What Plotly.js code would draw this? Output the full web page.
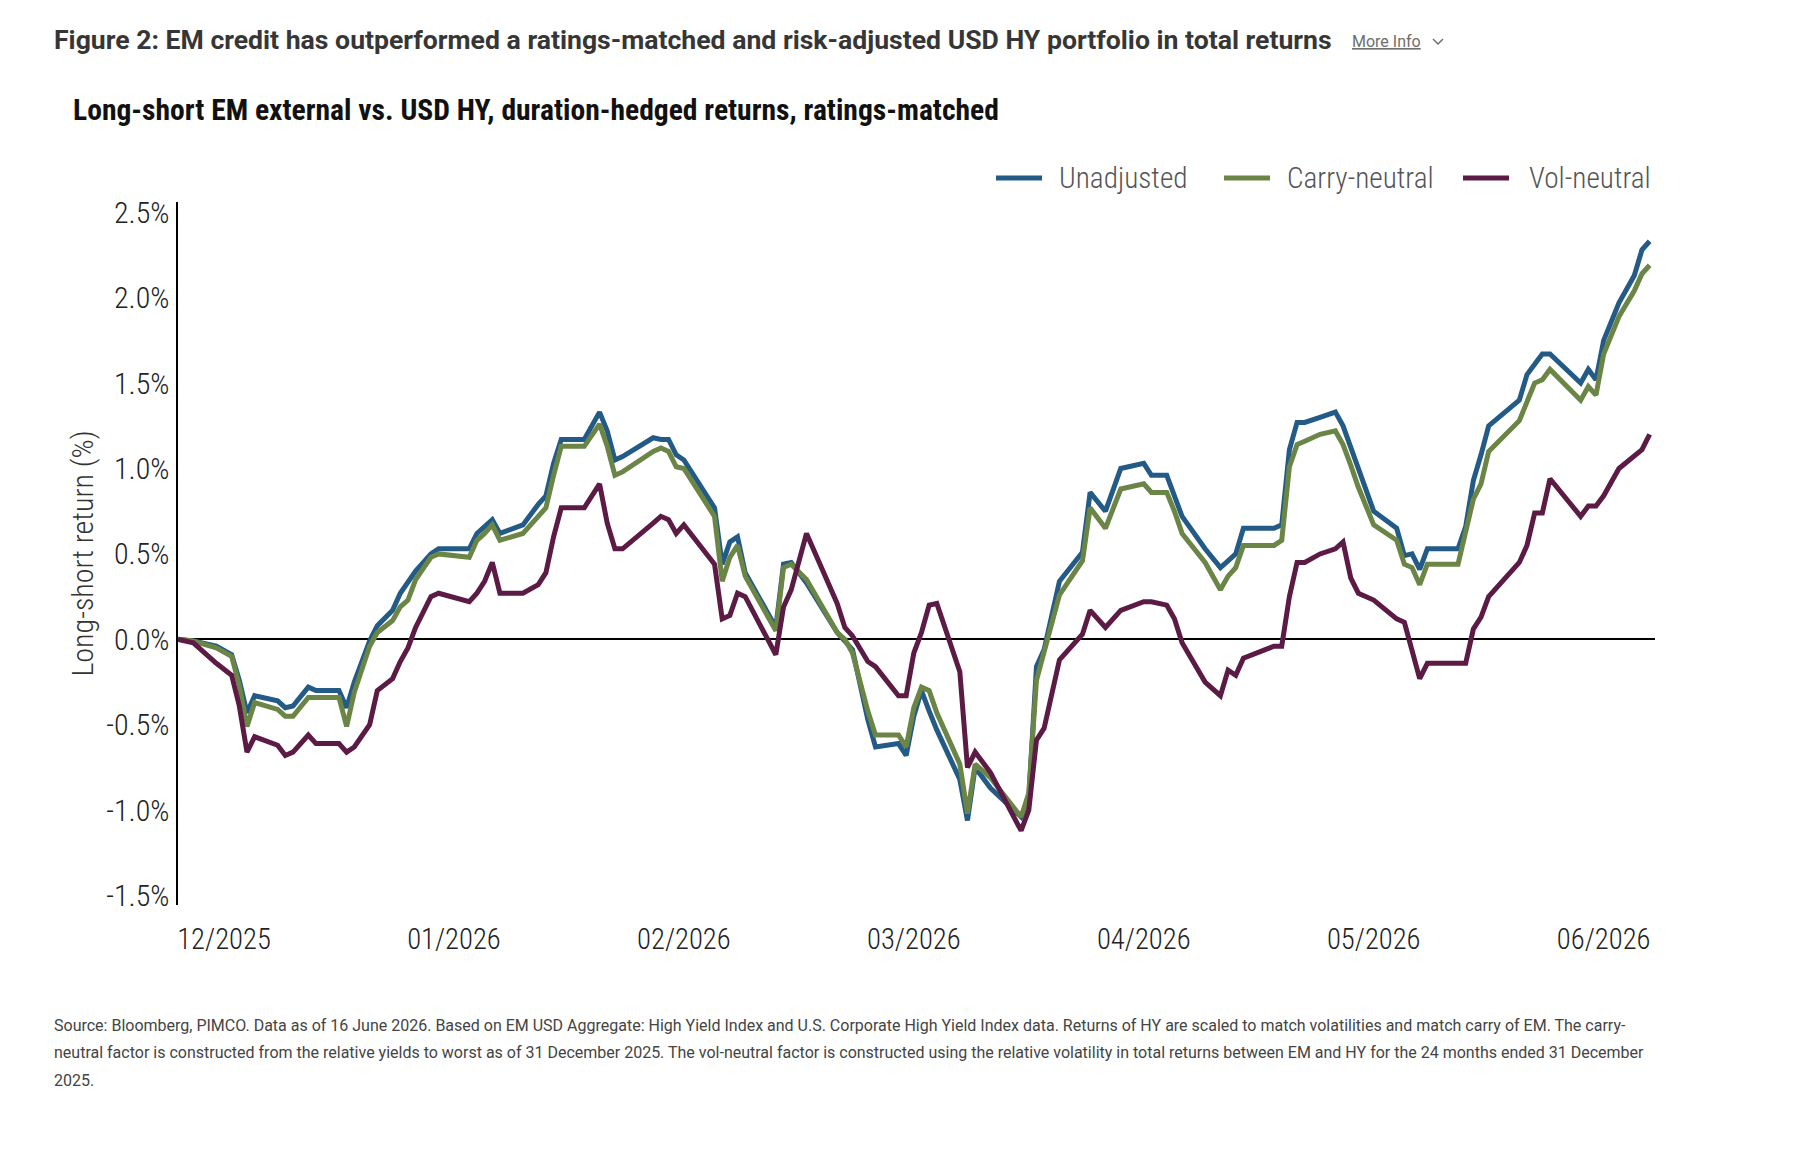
<!DOCTYPE html>
<html>
<head>
<meta charset="utf-8">
<script src="https://cdn.plot.ly/plotly-3.0.1.min.js"></script>
<style>
  html, body { margin: 0; padding: 0; background: #ffffff; }
  #chart { width: 1800px; height: 1150px; }
</style>
</head>
<body>
<div id="chart"></div>
<script>
// Observation number (trading day since the start of the window)
const obs = [0, 2, 5, 7, 8, 9, 10, 13, 14, 15,
  17, 18, 21, 22, 23, 25, 26, 28, 29, 30,
  31, 33, 34, 38, 39, 40, 41, 42, 45, 47,
  48, 49, 50, 53, 55, 56, 57, 58, 62, 63,
  64, 65, 66, 70, 71, 72, 73, 74, 78, 79,
  80, 82, 86, 87, 88, 90, 91, 94, 95, 96,
  97, 98, 99, 102, 103, 104, 106, 110, 111, 112,
  113, 115, 118, 119, 121, 123, 126, 127, 129, 130,
  131, 134, 136, 137, 138, 139, 143, 144, 145, 146,
  147, 149, 151, 152, 153, 154, 156, 159, 160, 161,
  162, 163, 167, 168, 169, 170, 171, 175, 176, 177,
  178, 179, 183, 184, 185, 186, 188, 190, 191, 192];

// Cumulative long-short return, %
const unadjusted = [0, -0.01, -0.04, -0.09, -0.24, -0.43, -0.33, -0.36, -0.40, -0.39,
  -0.28, -0.30, -0.30, -0.40, -0.25, -0.01, 0.08, 0.17, 0.27, 0.33,
  0.40, 0.50, 0.53, 0.53, 0.62, 0.66, 0.70, 0.62, 0.67, 0.79,
  0.84, 1.03, 1.17, 1.17, 1.33, 1.22, 1.05, 1.07, 1.18, 1.17,
  1.17, 1.08, 1.05, 0.77, 0.44, 0.57, 0.60, 0.39, 0.07, 0.44,
  0.45, 0.33, 0.04, -0.01, -0.06, -0.47, -0.63, -0.61, -0.68, -0.45,
  -0.30, -0.42, -0.53, -0.82, -1.06, -0.75, -0.87, -1.04, -0.93, -0.16,
  -0.06, 0.34, 0.51, 0.86, 0.75, 1.00, 1.03, 0.96, 0.96, 0.84,
  0.72, 0.53, 0.42, 0.46, 0.50, 0.65, 0.65, 0.67, 1.11, 1.27,
  1.27, 1.30, 1.33, 1.25, 1.12, 1.00, 0.75, 0.65, 0.49, 0.50,
  0.41, 0.53, 0.53, 0.66, 0.93, 1.08, 1.25, 1.40, 1.55, 1.61,
  1.67, 1.67, 1.50, 1.58, 1.52, 1.75, 1.97, 2.13, 2.28, 2.33];

const carryNeutral = [0, -0.01, -0.05, -0.10, -0.27, -0.51, -0.37, -0.41, -0.45, -0.45,
  -0.34, -0.34, -0.34, -0.51, -0.31, -0.04, 0.04, 0.11, 0.19, 0.23,
  0.35, 0.48, 0.50, 0.48, 0.58, 0.62, 0.67, 0.58, 0.62, 0.72,
  0.77, 0.96, 1.13, 1.13, 1.26, 1.13, 0.96, 0.98, 1.10, 1.12,
  1.10, 1.01, 1.00, 0.72, 0.34, 0.48, 0.55, 0.37, 0.05, 0.42,
  0.44, 0.35, 0.04, 0.00, -0.08, -0.42, -0.56, -0.56, -0.63, -0.40,
  -0.28, -0.30, -0.43, -0.73, -1.02, -0.73, -0.81, -1.04, -0.90, -0.24,
  -0.08, 0.26, 0.46, 0.77, 0.65, 0.88, 0.91, 0.86, 0.86, 0.75,
  0.62, 0.45, 0.29, 0.37, 0.42, 0.55, 0.55, 0.58, 1.01, 1.14,
  1.16, 1.20, 1.22, 1.14, 1.02, 0.89, 0.67, 0.58, 0.44, 0.42,
  0.32, 0.44, 0.44, 0.62, 0.82, 0.91, 1.10, 1.28, 1.40, 1.50,
  1.52, 1.58, 1.40, 1.48, 1.43, 1.67, 1.89, 2.04, 2.14, 2.19];

const volNeutral = [0, -0.02, -0.14, -0.21, -0.39, -0.66, -0.57, -0.62, -0.68, -0.66,
  -0.56, -0.61, -0.61, -0.66, -0.63, -0.50, -0.30, -0.23, -0.13, -0.05,
  0.07, 0.25, 0.27, 0.22, 0.27, 0.34, 0.45, 0.27, 0.27, 0.32,
  0.39, 0.60, 0.77, 0.77, 0.91, 0.68, 0.53, 0.53, 0.68, 0.72,
  0.70, 0.62, 0.67, 0.44, 0.12, 0.14, 0.27, 0.25, -0.09, 0.19,
  0.29, 0.62, 0.21, 0.07, 0.02, -0.13, -0.16, -0.33, -0.33, -0.08,
  0.04, 0.20, 0.21, -0.19, -0.75, -0.66, -0.78, -1.12, -1.00, -0.59,
  -0.52, -0.12, 0.03, 0.17, 0.07, 0.17, 0.22, 0.22, 0.20, 0.12,
  -0.02, -0.25, -0.33, -0.18, -0.21, -0.11, -0.04, -0.04, 0.25, 0.45,
  0.45, 0.50, 0.53, 0.57, 0.36, 0.27, 0.23, 0.12, 0.10, -0.07,
  -0.23, -0.14, -0.14, -0.14, 0.06, 0.13, 0.25, 0.45, 0.55, 0.74,
  0.74, 0.94, 0.72, 0.78, 0.78, 0.84, 1.00, 1.07, 1.11, 1.20];

const seriesNames = ['Unadjusted', 'Carry-neutral', 'Vol-neutral'];

// Month labels and the observation each one sits on
const monthTickObs = [6, 36, 66, 96, 126, 156, 186];
const monthLabels = ['12/2025', '01/2026', '02/2026', '03/2026', '04/2026', '05/2026', '06/2026'];

const yTickVals = [-1.5, -1.0, -0.5, 0.0, 0.5, 1.0, 1.5, 2.0, 2.5];
const yTickText = ['-1.5%', '-1.0%', '-0.5%', '0.0%', '0.5%', '1.0%', '1.5%', '2.0%', '2.5%'];

const headline = 'Figure 2: EM credit has outperformed a ratings-matched and risk-adjusted USD HY portfolio in total returns';
const chartTitle = 'Long-short EM external vs. USD HY, duration-hedged returns, ratings-matched';
const yTitle = 'Long-short return (%)';
const footnoteLines = [
  'Source: Bloomberg, PIMCO. Data as of 16 June 2026. Based on EM USD Aggregate: High Yield Index and U.S. Corporate High Yield Index data. Returns of HY are scaled to match volatilities and match carry of EM. The carry-',
  'neutral factor is constructed from the relative yields to worst as of 31 December 2025. The vol-neutral factor is constructed using the relative volatility in total returns between EM and HY for the 24 months ended 31 December',
  '2025.'
];

// ---- styling ----
const W = 1800, H = 1150;
const M = { l: 178, r: 145, t: 202, b: 245 };
const px2x = px => (px - M.l) / (W - M.l - M.r);
const py2y = py => (H - M.b - py) / (H - M.t - M.b);

const COND = "'Roboto Condensed', 'Liberation Sans Narrow', 'Arial Narrow', 'DejaVu Sans Condensed', Roboto, sans-serif";
const SANS = "Roboto, 'Open Sans', 'Liberation Sans', sans-serif";
const colors = ['#235B86', '#6A8545', '#5C1B44'];

const traces = [unadjusted, carryNeutral, volNeutral].map((vals, k) => ({
  type: 'scatter',
  mode: 'lines',
  name: seriesNames[k],
  x: obs,
  y: vals,
  line: { color: colors[k], width: 5 },
  showlegend: false,
  hoverinfo: 'skip'
}));

const annotations = [
  {
    text: '<b>' + headline + '</b>', xref: 'paper', yref: 'paper',
    x: px2x(52), y: py2y(39), xanchor: 'left', yanchor: 'middle', showarrow: false,
    font: { family: SANS, size: 26.6, color: '#363636' }
  },
  {
    text: '<u>More Info</u>', xref: 'paper', yref: 'paper',
    x: px2x(1350), y: py2y(41), xanchor: 'left', yanchor: 'middle', showarrow: false,
    font: { family: SANS, size: 16, color: '#6e6e6e' }
  },
  {
    text: '<b>' + chartTitle + '</b>', xref: 'paper', yref: 'paper',
    x: px2x(71), y: py2y(110), xanchor: 'left', yanchor: 'middle', showarrow: false,
    font: { family: COND, size: 29.6, color: '#111111' }
  }
];
footnoteLines.forEach((line, k) => {
  annotations.push({
    text: line, xref: 'paper', yref: 'paper',
    x: px2x(52), y: py2y(1025 + 27.5 * k), xanchor: 'left', yanchor: 'middle', showarrow: false,
    font: { family: SANS, size: 16, color: '#444444' }
  });
});

// Legend: a short line sample followed by the series name
const legendSampleLeft = [996, 1224, 1463];
const legendTextLeft = [1057, 1285, 1527];
const legendY = 178;
const shapes = [
  {
    type: 'path', xref: 'paper', yref: 'paper',
    xsizemode: 'pixel', ysizemode: 'pixel',
    xanchor: px2x(1438), yanchor: py2y(41),
    path: 'M -5 2 L 0 -3 L 5 2',
    line: { color: '#6e6e6e', width: 1.5 }
  }
];
seriesNames.forEach((name, k) => {
  shapes.push({
    type: 'line', xref: 'paper', yref: 'paper',
    x0: px2x(legendSampleLeft[k]), x1: px2x(legendSampleLeft[k] + 46),
    y0: py2y(legendY), y1: py2y(legendY),
    line: { color: colors[k], width: 5 }
  });
  annotations.push({
    text: name, xref: 'paper', yref: 'paper',
    x: px2x(legendTextLeft[k]), y: py2y(legendY), xanchor: 'left', yanchor: 'middle', showarrow: false,
    font: { family: COND, size: 29.3, weight: 300, color: '#555555' }
  });
});

const layout = {
  width: W, height: H,
  margin: M,
  paper_bgcolor: '#ffffff', plot_bgcolor: '#ffffff',
  showlegend: false,
  xaxis: {
    range: [0, 192.7], showgrid: false, zeroline: false, showline: false,
    tickmode: 'array', tickvals: monthTickObs, ticktext: monthLabels,
    ticks: '', ticklabelstandoff: 14,
    tickfont: { family: COND, size: 28.6, weight: 300, color: '#222222' },
    fixedrange: true
  },
  yaxis: {
    range: [-1.555, 2.56], showgrid: false,
    zeroline: true, zerolinecolor: '#000000', zerolinewidth: 2,
    showline: true, linecolor: '#000000', linewidth: 2.5,
    tickmode: 'array', tickvals: yTickVals, ticktext: yTickText,
    ticks: '', ticklabelstandoff: 0,
    tickfont: { family: COND, size: 30, weight: 300, color: '#222222' },
    title: { text: yTitle, standoff: 4, font: { family: COND, size: 30, weight: 300, color: '#333333' } },
    fixedrange: true
  },
  annotations: annotations,
  shapes: shapes
};

Plotly.newPlot('chart', traces, layout, { displayModeBar: false, staticPlot: true });
</script>
</body>
</html>
